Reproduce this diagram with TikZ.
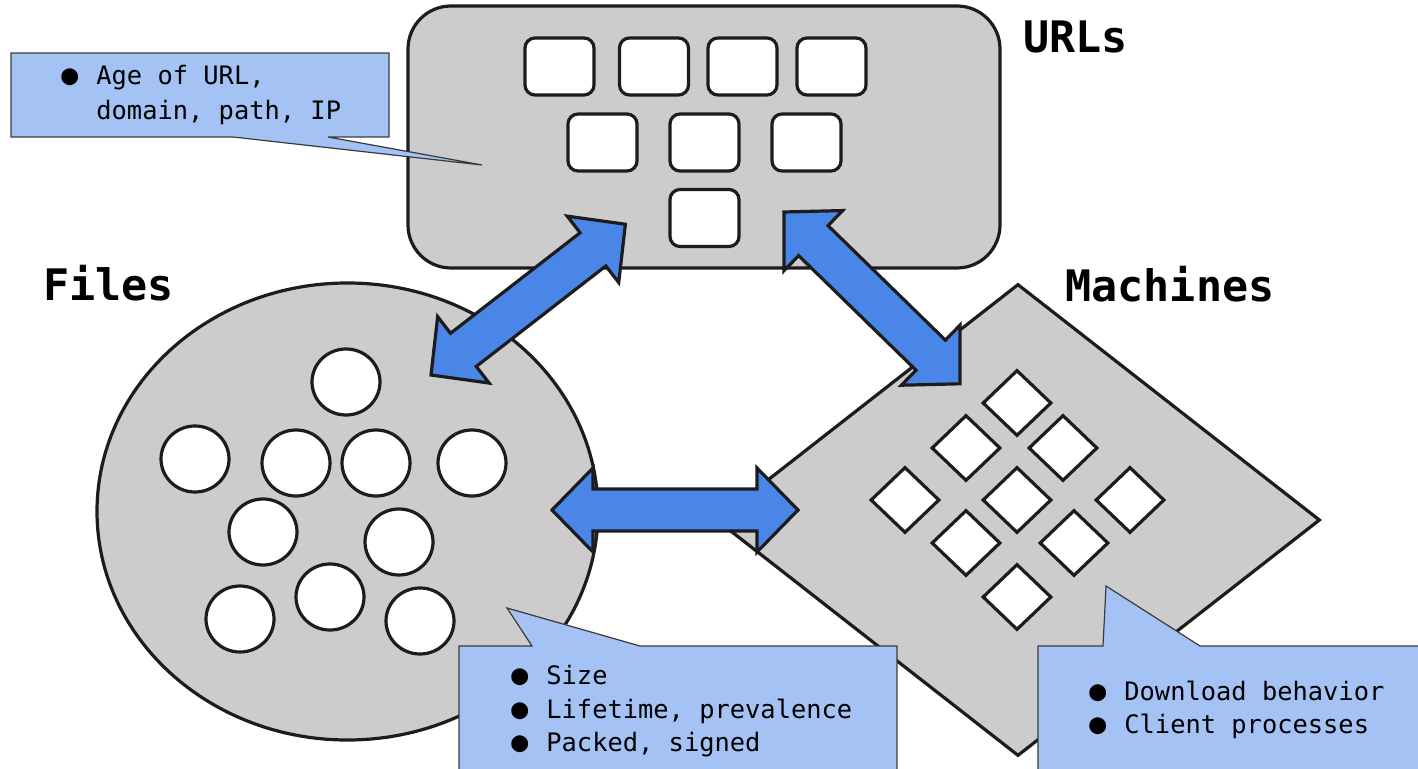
\documentclass[tikz,border=0pt]{standalone}
\usepackage{fontspec}
\setmainfont{DejaVu Sans Mono}
\usetikzlibrary{shapes.geometric}
\definecolor{shapegray}{HTML}{CCCCCC}
\definecolor{edgeblack}{HTML}{1C1C1C}
\definecolor{arrowblue}{HTML}{4A86E8}
\definecolor{calloutblue}{HTML}{A4C2F4}
\definecolor{calloutedge}{HTML}{3A3A3A}
\newcommand{\bul}{\makebox[17.5pt][l]{\fontsize{14}{14}\selectfont ●}}
\begin{document}
\begin{tikzpicture}[x=0.5pt,y=-0.5pt,
  bigshape/.style={draw=edgeblack,fill=shapegray,line width=1.6pt,inner sep=0pt},
  hole/.style={draw=edgeblack,fill=white,line width=1.6pt,inner sep=0pt},
  urlbox/.style={hole,rectangle,rounded corners=5pt,minimum width=34.5pt,minimum height=28.5pt},
  filehole/.style={hole,ellipse,minimum width=34pt,minimum height=33pt},
  machinehole/.style={hole,diamond,minimum width=34.5pt,minimum height=33pt},
  arrowstyle/.style={draw=edgeblack,fill=arrowblue,line width=1.6pt,line join=miter},
  calloutstyle/.style={draw=calloutedge,fill=calloutblue,line width=0.6pt},
  titletext/.style={anchor=base west,inner sep=0pt,font=\fontsize{21.7}{25}\selectfont\bfseries},
  bodytext/.style={anchor=base west,inner sep=0pt,font=\fontsize{12.7}{17}\selectfont},
  pics/blockarrow/.style={code={
    \draw[arrowstyle] (0,0) -- (41,42) -- (41,21) -- (205,21) -- (205,42) -- (246,0)
      -- (205,-42) -- (205,-21) -- (41,-21) -- (41,-42) -- cycle;}}
]
\useasboundingbox (0,0) rectangle (1418,769);
\clip (0,0) rectangle (1418,769);

% URLs
\node[bigshape,rectangle,rounded corners=21.5pt,minimum width=296pt,minimum height=131pt] (url) at (704,137) {};
\node[urlbox] (u1) at (559.5,66.5) {};
\node[urlbox] (u2) at (654,66.5) {};
\node[urlbox] (u3) at (742.5,66.5) {};
\node[urlbox] (u4) at (831.5,66.5) {};
\node[urlbox] (u5) at (602.5,142.5) {};
\node[urlbox] (u6) at (704.5,142.5) {};
\node[urlbox] (u7) at (806.5,142.5) {};
\node[urlbox] (u8) at (704.5,218) {};

% Files
\node[bigshape,ellipse,minimum width=250.5pt,minimum height=228.5pt] (files) at (347.5,511.5) {};
\node[filehole] (f1) at (346,382) {};
\node[filehole] (f2) at (195,459) {};
\node[filehole] (f3) at (296,463) {};
\node[filehole] (f4) at (376,463) {};
\node[filehole] (f5) at (472,463) {};
\node[filehole] (f6) at (263,532) {};
\node[filehole] (f7) at (399,542) {};
\node[filehole] (f8) at (240,619) {};
\node[filehole] (f9) at (330,597) {};
\node[filehole] (f10) at (420,621) {};

% Machines
\node[bigshape,diamond,minimum width=302pt,minimum height=236pt] (machines) at (1018,520) {};
\node[machinehole] (m1) at (1017,403) {};
\node[machinehole] (m2) at (966,448) {};
\node[machinehole] (m3) at (1063,448) {};
\node[machinehole] (m4) at (905,500) {};
\node[machinehole] (m5) at (1017,500) {};
\node[machinehole] (m6) at (1130,500) {};
\node[machinehole] (m7) at (966,543) {};
\node[machinehole] (m8) at (1074,543) {};
\node[machinehole] (m9) at (1017,597) {};

% Block arrows
\coordinate (a1) at (431,375);
\coordinate (a2) at (784,212);
\coordinate (a3) at (552,510);
\pic[rotate=37.8] at (a1) {blockarrow};
\pic[rotate=-44.3] at (a2) {blockarrow};
\pic at (a3) {blockarrow};

% Callouts
\path[calloutstyle] (11,53) -- (389,53) -- (389,137) -- (328,137) -- (482,165) -- (233,137) -- (11,137) -- cycle;
\path[calloutstyle] (459,646) -- (532,646) -- (507,608) -- (640,646) -- (897,646) -- (897,780) -- (459,780) -- cycle;
\path[calloutstyle] (1038,646) -- (1103,646) -- (1106,586) -- (1200,646) -- (1430,646) -- (1430,780) -- (1038,780) -- cycle;

\node[bodytext] (c1a) at (61,85) {\bul Age of URL,};
\node[bodytext] (c1b) at (96,120) {domain, path, IP};
\node[bodytext] (c2a) at (511,684) {\bul Size};
\node[bodytext] (c2b) at (511,718) {\bul Lifetime, prevalence};
\node[bodytext] (c2c) at (511,751) {\bul Packed, signed};
\node[bodytext] (c3a) at (1089,700) {\bul Download behavior};
\node[bodytext] (c3b) at (1089,733) {\bul Client processes};

% Titles
\node[titletext] (turls) at (1023,53) {URLs};
\node[titletext] (tfiles) at (43,301) {Files};
\node[titletext] (tmach) at (1065,302) {Machines};
\end{tikzpicture}
\end{document}
